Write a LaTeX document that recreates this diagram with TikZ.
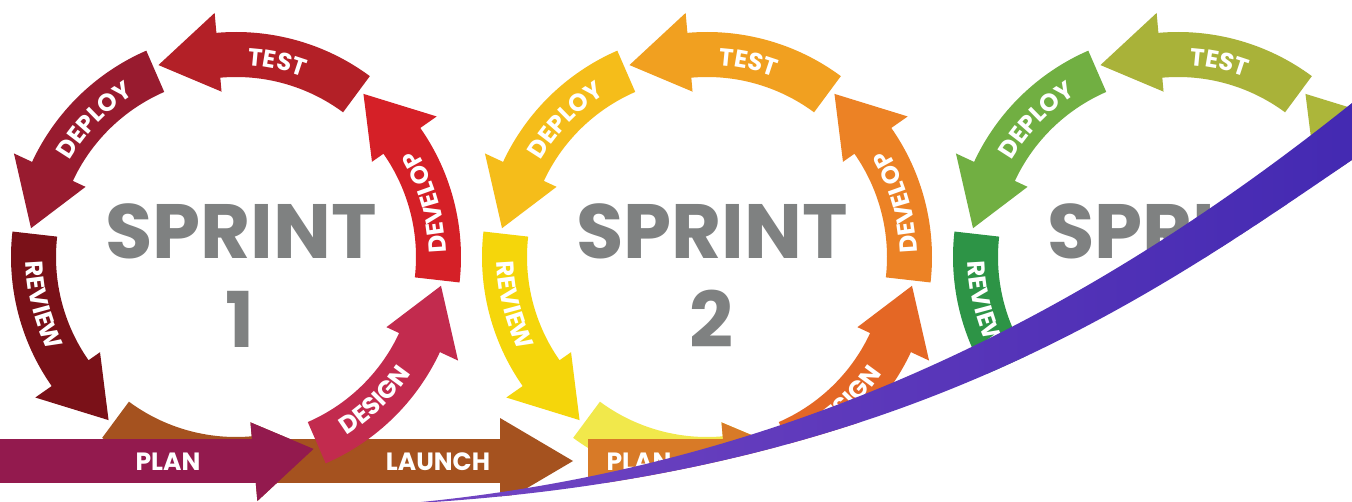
\documentclass[tikz,border=0pt]{standalone}
\usepackage{fontspec}
\setmainfont{Poppins}
\usetikzlibrary{decorations.text}

\definecolor{sprintgrey}{HTML}{7F8181}
% sprint 1
\definecolor{aPlanRing}{HTML}{A5521F}
\definecolor{aBand}{HTML}{931A4E}
\definecolor{aLaunch}{HTML}{A5521F}
\definecolor{aReview}{HTML}{7A1118}
\definecolor{aDeploy}{HTML}{981B2F}
\definecolor{aTest}{HTML}{B32027}
\definecolor{aDevelop}{HTML}{D52027}
\definecolor{aDesign}{HTML}{C22B4E}
% sprint 2
\definecolor{bPlanRing}{HTML}{F1E84B}
\definecolor{bBand}{HTML}{D87A27}
\definecolor{bReview}{HTML}{F5D60B}
\definecolor{bDeploy}{HTML}{F5BD1A}
\definecolor{bTest}{HTML}{F1A020}
\definecolor{bDevelop}{HTML}{EC8225}
\definecolor{bDesign}{HTML}{E46725}
% sprint 3
\definecolor{cReview}{HTML}{2D9446}
\definecolor{cDeploy}{HTML}{71AF42}
\definecolor{cTest}{HTML}{A9B239}
\definecolor{cDevelop}{HTML}{ACB63A}
% swoosh
\definecolor{swL}{HTML}{7446C3}
\definecolor{swR}{HTML}{4128B1}

\newcommand\arclabfont{\fontsize{24.5}{24.5}\selectfont\bfseries}
\newcommand\ringarrow[2]{%
  \fill[#2] (#1:225) arc[start angle=#1, end angle={#1+41.5}, radius=225]
    -- ({#1+41.5}:245) -- ({#1+58.5}:207) -- ({#1+41.5}:166) -- ({#1+41.5}:180)
    arc[start angle={#1+41.5}, end angle=#1, radius=180] -- cycle;}
% label with letter tops toward the centre (path counter-clockwise)
\newcommand\labin[3]{%
  \path[decorate,decoration={text along path,text align=center,text color=white,
    text={|\arclabfont|#2}}] ({#1-#3}:210) arc[start angle={#1-#3}, end angle={#1+#3}, radius=210];}
% label with letter tops outward (path clockwise)
\newcommand\labout[3]{%
  \path[decorate,decoration={text along path,text align=center,text color=white,
    text={|\arclabfont|#2}}] ({#1+#3}:192) arc[start angle={#1+#3}, end angle={#1-#3}, radius=192];}

\tikzset{
  bigtext/.style={font=\fontsize{77}{77}\selectfont\bfseries, text=sprintgrey, inner sep=0pt},
  bandtext/.style={font=\fontsize{25}{25}\selectfont\bfseries, text=white, inner sep=0pt}
}

\begin{document}
\begin{tikzpicture}[x=1pt,y=1pt]
\useasboundingbox (0,0) rectangle (1352,501);
\clip (0,0) rectangle (1352,501);
\fill[white] (0,0) rectangle (1352,501);

% ---------------- Sprint 1 ----------------
\begin{scope}[shift={(236,244)}]
  \ringarrow{233.5}{aPlanRing}
  \fill[aLaunch] (30,-226) rectangle (264,-182);
  \fill[aLaunch] (264,-247) -- (337,-204) -- (264,-161) -- cycle;
  \fill[aBand] (-240,-226) rectangle (20,-182);
  \fill[aBand] (275:245) -- (292:207) -- (275:166) -- cycle;
  \ringarrow{293.5}{aDesign}
  \ringarrow{353.5}{aDevelop}
  \ringarrow{53.5}{aTest}
  \ringarrow{113.5}{aDeploy}
  \ringarrow{173.5}{aReview}
  \labout{78}{TEST}{30}
  \labin{16}{DEVELOP}{40}
  \labin{-46}{DESIGN}{35}
  \labout{136}{DEPLOY}{35}
  \labin{194}{REVIEW}{35}
\end{scope}
\node[bandtext] (plan1) at (168,39) {PLAN};
\node[bandtext] (launch1) at (438,39) {LAUNCH};
\node[bigtext] (sprint1) at (241,269.5) {SPRINT};
\node[bigtext] (num1) at (240,182) {1};

% ---------------- Sprint 2 ----------------
\begin{scope}[shift={(707,244)}]
  \ringarrow{233.5}{bPlanRing}
  \fill[bBand] (-119,-226) rectangle (20,-182);
  \fill[bBand] (275:245) -- (292:207) -- (275:166) -- cycle;
  \ringarrow{293.5}{bDesign}
  \ringarrow{353.5}{bDevelop}
  \ringarrow{53.5}{bTest}
  \ringarrow{113.5}{bDeploy}
  \ringarrow{173.5}{bReview}
  \labout{78}{TEST}{30}
  \labin{16}{DEVELOP}{40}
  \labin{-46}{DESIGN}{35}
  \labout{136}{DEPLOY}{35}
  \labin{194}{REVIEW}{35}
\end{scope}
\node[bandtext] (plan2) at (639,39) {PLAN};
\node[bigtext] (sprint2) at (712,269.5) {SPRINT};
\node[bigtext] (num2) at (711,182) {2};

% ---------------- Sprint 3 ----------------
\begin{scope}[shift={(1178,244)}]
  \ringarrow{353.5}{cDevelop}
  \ringarrow{53.5}{cTest}
  \ringarrow{113.5}{cDeploy}
  \ringarrow{173.5}{cReview}
  \labout{78}{TEST}{30}
  \labout{136}{DEPLOY}{35}
  \labin{194}{REVIEW}{35}
\end{scope}
\node[bigtext] (sprint3) at (1183,269.5) {SPRINT};

% ---------------- swoosh ----------------
\fill[white] (400,-3) .. controls (900,23) and (1152,205) .. (1352,341)
  -- (1400,374) -- (1400,-10) -- (400,-10) -- cycle;
\shade[left color=swL, right color=swR]
  (400,-3) .. controls (800,32) and (1102,198) .. (1352,398)
  -- (1400,436) -- (1400,374) -- (1352,341)
  .. controls (1152,205) and (900,23) .. (400,-3) -- cycle;
\end{tikzpicture}
\end{document}
